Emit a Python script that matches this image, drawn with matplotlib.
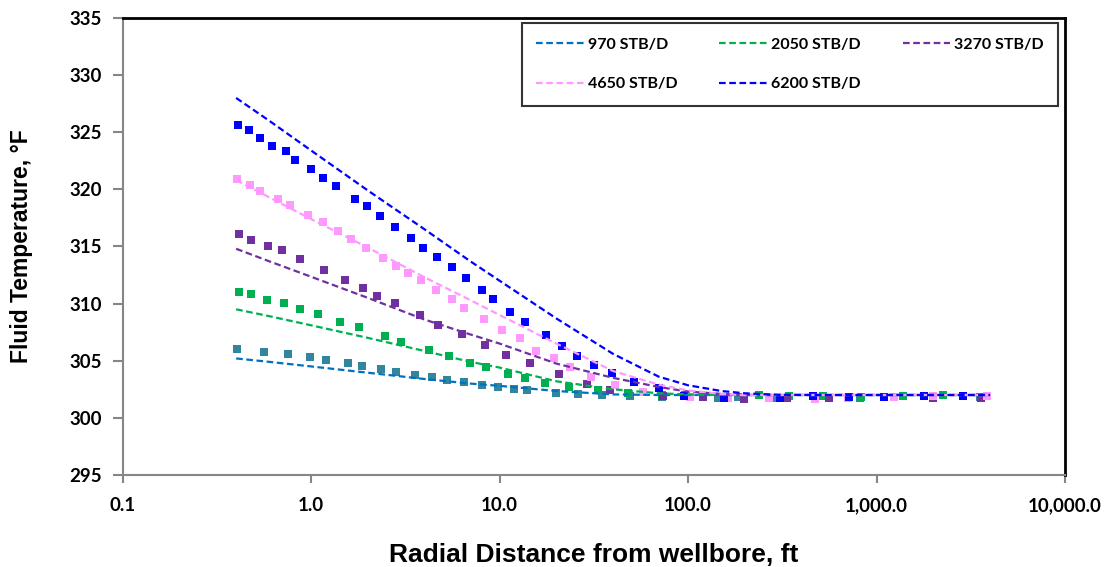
import numpy as np
import matplotlib
matplotlib.use("Agg")
import matplotlib.pyplot as plt

# ---- data ----
rates = ["970 STB/D", "2050 STB/D", "3270 STB/D", "4650 STB/D", "6200 STB/D"]
line_colors = ["#0070C0", "#00B050", "#7030A0", "#FF99FF", "#0000FF"]
marker_colors = ["#31859C", "#00B050", "#7030A0", "#FF99FF", "#0000FF"]

# model curves (dashed lines)
r_line = [0.4, 0.6, 1, 2, 4, 7, 10, 20, 40, 70, 100, 150, 200, 300, 500, 1000, 4000]
t_line_970 = [305.2, 304.9, 304.5, 303.95, 303.4, 303.0, 302.8, 302.35, 302.05, 302.0, 302.0, 302.0, 302.0, 302.0, 302.0, 302.0, 302.0]
t_line_2050 = [309.5, 308.9, 308.1, 307.0, 305.85, 304.9, 304.4, 303.2, 302.5, 302.15, 302.05, 302.0, 302.0, 302.0, 302.0, 302.0, 302.0]
t_line_3270 = [314.8, 313.7, 312.35, 310.5, 308.6, 307.3, 306.5, 304.75, 303.5, 302.7, 302.3, 302.1, 302.0, 302.0, 302.0, 302.0, 302.0]
t_line_4650 = [320.8, 319.3, 317.4, 314.9, 312.3, 310.3, 309.0, 306.5, 304.1, 302.9, 302.4, 302.1, 301.98, 302.0, 302.0, 302.0, 302.0]
t_line_6200 = [328.0, 326.0, 323.4, 319.9, 316.5, 313.7, 312.0, 308.7, 305.6, 303.6, 302.85, 302.35, 302.15, 302.02, 302.0, 302.0, 302.0]

# simulated points (squares)
r_970 = [0.406, 0.564, 0.756, 0.989, 1.20, 1.56, 1.87, 2.35, 2.83, 3.57, 4.39, 5.27, 6.49, 8.08, 9.84,
         11.9, 13.9, 19.8, 26.1, 35.0, 49.1, 72.3, 145, 184, 289, 815, 3532]
t_970 = [306.0, 305.74, 305.56, 305.30, 305.04, 304.78, 304.51, 304.25, 303.99, 303.73, 303.55, 303.29,
         303.11, 302.85, 302.68, 302.50, 302.41, 302.15, 302.06, 301.98, 301.91, 301.85, 301.77, 301.85,
         301.7, 301.77, 301.85]

r_2050 = [0.415, 0.481, 0.583, 0.719, 0.875, 1.09, 1.43, 1.80, 2.47, 3.01, 4.23, 5.40, 6.98, 8.49, 11.1,
          13.6, 17.5, 23.4, 33.3, 47.8, 72.3, 96.2, 237, 342, 522, 826, 1384, 2254]
t_2050 = [310.99, 310.82, 310.29, 310.03, 309.50, 309.07, 308.37, 307.93, 307.14, 306.61, 305.98, 305.39,
          304.78, 304.43, 303.84, 303.49, 303.05, 302.66, 302.40, 302.15, 302.0, 302.0, 302.0, 301.9,
          301.9, 301.8, 301.9, 302.0]

r_3270 = [0.415, 0.481, 0.592, 0.703, 0.875, 1.17, 1.52, 1.89, 2.24, 2.79, 3.79, 4.72, 6.33, 8.39, 10.8,
          14.5, 20.7, 29.2, 38.5, 73.3, 120, 199, 333, 559, 1995, 3573]
t_3270 = [316.07, 315.54, 315.02, 314.67, 313.88, 312.92, 312.04, 311.35, 310.64, 310.03, 308.96, 308.16,
          307.37, 306.41, 305.48, 304.78, 303.81, 302.95, 302.44, 301.94, 301.85, 301.65, 301.77, 301.77,
          301.74, 301.77]

r_4650 = [0.406, 0.475, 0.537, 0.669, 0.775, 0.966, 1.16, 1.39, 1.63, 1.96, 2.41, 2.83, 3.27, 3.84, 4.61,
          5.56, 6.49, 8.28, 10.3, 12.9, 15.6, 19.5, 23.7, 30.7, 40.9, 57.8, 102, 163, 269, 471, 707, 1236,
          1996, 3837]
t_4650 = [320.88, 320.36, 319.83, 319.13, 318.61, 317.73, 317.12, 316.33, 315.63, 314.84, 313.97, 313.27,
          312.65, 312.04, 311.19, 310.38, 309.59, 308.63, 307.67, 306.97, 305.83, 305.21, 304.43, 303.55,
          302.88, 302.29, 301.85, 301.7, 301.7, 301.65, 301.7, 301.8, 301.9, 301.9]

r_6200 = [0.411, 0.470, 0.537, 0.622, 0.738, 0.824, 1.00, 1.16, 1.36, 1.71, 1.98, 2.33, 2.79, 3.40, 3.93,
          4.67, 5.60, 6.65, 8.09, 9.25, 11.4, 13.7, 17.7, 21.5, 25.8, 31.8, 39.6, 51.8, 70.3, 95.4, 155,
          307, 459, 713, 1094, 1782, 2871]
t_6200 = [325.61, 325.17, 324.47, 323.77, 323.33, 322.54, 321.76, 320.97, 320.27, 319.13, 318.52, 317.64,
          316.68, 315.72, 314.84, 314.05, 313.18, 312.22, 311.17, 310.38, 309.24, 308.37, 307.23, 306.27,
          305.39, 304.60, 303.90, 303.11, 302.59, 301.94, 301.77, 301.77, 301.91, 301.83, 301.83, 301.91,
          301.91]

x_ticks = [0.1, 1, 10, 100, 1000, 10000]
x_ticklabels = ["0.1", "1.0", "10.0", "100.0", "1,000.0", "10,000.0"]
y_ticks = [295, 300, 305, 310, 315, 320, 325, 330, 335]

line_sets = [t_line_970, t_line_2050, t_line_3270, t_line_4650, t_line_6200]
point_sets = [(r_970, t_970), (r_2050, t_2050), (r_3270, t_3270), (r_4650, t_4650), (r_6200, t_6200)]

tick_font = "Lato"
label_font = "Liberation Sans"

fig = plt.figure(figsize=(11.13, 5.67), dpi=100)
ax = fig.add_axes([0.1102, 0.1623, 0.8467, 0.806])

for (rr, tt), c in zip(point_sets, marker_colors):
    ax.plot(rr, tt, linestyle="none", marker="s", ms=6.4, mew=0, color=c, zorder=2)

handles = []
for tt, c, lab in zip(line_sets, line_colors, rates):
    ln, = ax.plot(r_line, tt, color=c, lw=1.6, dashes=(3, 1.6), zorder=3, label=lab)
    handles.append(ln)

ax.set_xscale("log")
ax.set_xlim(0.1, 10000)
ax.set_ylim(295, 335)
ax.set_xticks(x_ticks)
ax.set_xticklabels(x_ticklabels)
ax.xaxis.set_minor_locator(matplotlib.ticker.NullLocator())
ax.set_yticks(y_ticks)

for lab in ax.get_xticklabels() + ax.get_yticklabels():
    lab.set_fontfamily(tick_font)
    lab.set_fontweight("bold")
    lab.set_fontsize(13.5)
ax.tick_params(axis="x", direction="out", length=6, width=1.5, color="#868686", pad=10)
ax.tick_params(axis="y", direction="out", length=7, width=1.5, color="#868686", pad=8)

for s in ["left", "bottom"]:
    ax.spines[s].set_color("#868686")
    ax.spines[s].set_linewidth(1.5)
for s in ["top", "right"]:
    ax.spines[s].set_color("black")
    ax.spines[s].set_linewidth(2)

ax.set_xlabel("Radial Distance from wellbore, ft", fontfamily=label_font, fontweight="bold",
              fontsize=19, labelpad=21)
ax.set_ylabel("Fluid Temperature, \u00b0F", fontfamily=label_font, fontweight="bold",
              fontsize=16.5, labelpad=26)

# row-major legend order as in the original (matplotlib fills columns first)
order = [0, 3, 1, 4, 2]
leg = ax.legend(handles=[handles[i] for i in order], ncol=3, loc="upper right",
                bbox_to_anchor=(0.993, 0.989),
                frameon=True, fancybox=False, edgecolor="black", handlelength=3.0,
                handletextpad=0.25, columnspacing=2.6, labelspacing=1.6, borderpad=0.9,
                borderaxespad=0, prop={"family": tick_font, "weight": "bold", "size": 11.5})
leg.get_frame().set_linewidth(1.5)

fig.savefig("out.png", dpi=100)
